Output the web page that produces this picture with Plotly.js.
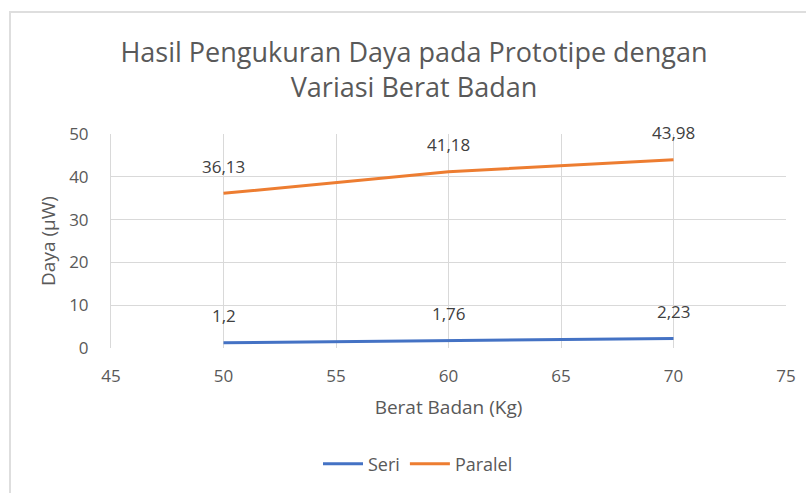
<!DOCTYPE html>
<html>
<head>
<meta charset="utf-8">
<script src="https://cdn.plot.ly/plotly-3.0.1.min.js"></script>
<style>
html,body{margin:0;padding:0;background:#fff;overflow:hidden;}
#frame{position:absolute;left:9px;top:11px;width:830px;height:480px;border-left:2px solid #DEDEDE;border-top:2px solid #DEDEDE;}
#chart{position:absolute;left:0;top:0;width:806px;height:493px;}
</style>
</head>
<body>
<div id="frame"></div>
<div id="chart"></div>
<script>
const beratBadan = [50, 60, 70];
const seri = [1.2, 1.76, 2.23];
const paralel = [36.13, 41.18, 43.98];
const seriLabels = ["1,2", "1,76", "2,23"];
const paralelLabels = ["36,13", "41,18", "43,98"];
const xTicks = [45, 50, 55, 60, 65, 70, 75];
const yTicks = [0, 10, 20, 30, 40, 50];

const FONT = "'Open Sans', sans-serif";
const axisColor = "#595959";

const traces = [
  {x: beratBadan, y: seri, name: "Seri", mode: "lines", type: "scatter",
   line: {color: "#4472C4", width: 3}},
  {x: beratBadan, y: paralel, name: "Paralel", mode: "lines", type: "scatter",
   line: {color: "#ED7D31", width: 3}}
];

const annotations = [];
beratBadan.forEach((xv, i) => {
  annotations.push({x: xv, y: seri[i], text: seriLabels[i], showarrow: false,
    yshift: 27, font: {family: FONT, size: 17, color: "#404040"}});
  annotations.push({x: xv, y: paralel[i], text: paralelLabels[i], showarrow: false,
    yshift: 27, font: {family: FONT, size: 17, color: "#404040"}});
});

const layout = {
  width: 806, height: 493,
  margin: {l: 111, r: 20, t: 134, b: 145},
  paper_bgcolor: "rgba(0,0,0,0)",
  plot_bgcolor: "rgba(0,0,0,0)",
  font: {family: FONT, color: axisColor},
  title: {
    text: "Hasil Pengukuran Daya pada Prototipe dengan<br>Variasi Berat Badan",
    font: {family: FONT, size: 27, color: axisColor},
    xref: "container", x: 414/806, xanchor: "center",
    yref: "container", y: 1 - 62/493, yanchor: "middle"
  },
  xaxis: {
    range: [45, 75], tickvals: xTicks, ticktext: xTicks.map(String),
    showgrid: true, gridcolor: "#D9D9D9", gridwidth: 1,
    zeroline: false, showline: false,
    ticks: "", ticklabelstandoff: 16,
    tickfont: {family: FONT, size: 17, color: axisColor},
    title: {text: "Berat Badan (Kg)", font: {family: FONT, size: 19, color: axisColor}, standoff: 14}
  },
  yaxis: {
    range: [0, 50], tickvals: yTicks, ticktext: yTicks.map(String),
    showgrid: true, gridcolor: "#D9D9D9", gridwidth: 1,
    zeroline: false, showline: true, linecolor: "#D9D9D9",
    ticks: "", ticklabelstandoff: 18,
    tickfont: {family: FONT, size: 17, color: axisColor},
    title: {text: "Daya (μW)", font: {family: FONT, size: 19, color: axisColor}, standoff: 8}
  },
  showlegend: true,
  legend: {
    orientation: "h", xref: "container", yref: "container",
    x: 418/806, xanchor: "center", y: 1 - 464/493, yanchor: "middle",
    font: {family: FONT, size: 18, color: axisColor},
    itemwidth: 40, tracegroupgap: 0
  },
  annotations: annotations
};

Plotly.newPlot("chart", traces, layout, {displayModeBar: false, staticPlot: true});
</script>
</body>
</html>
